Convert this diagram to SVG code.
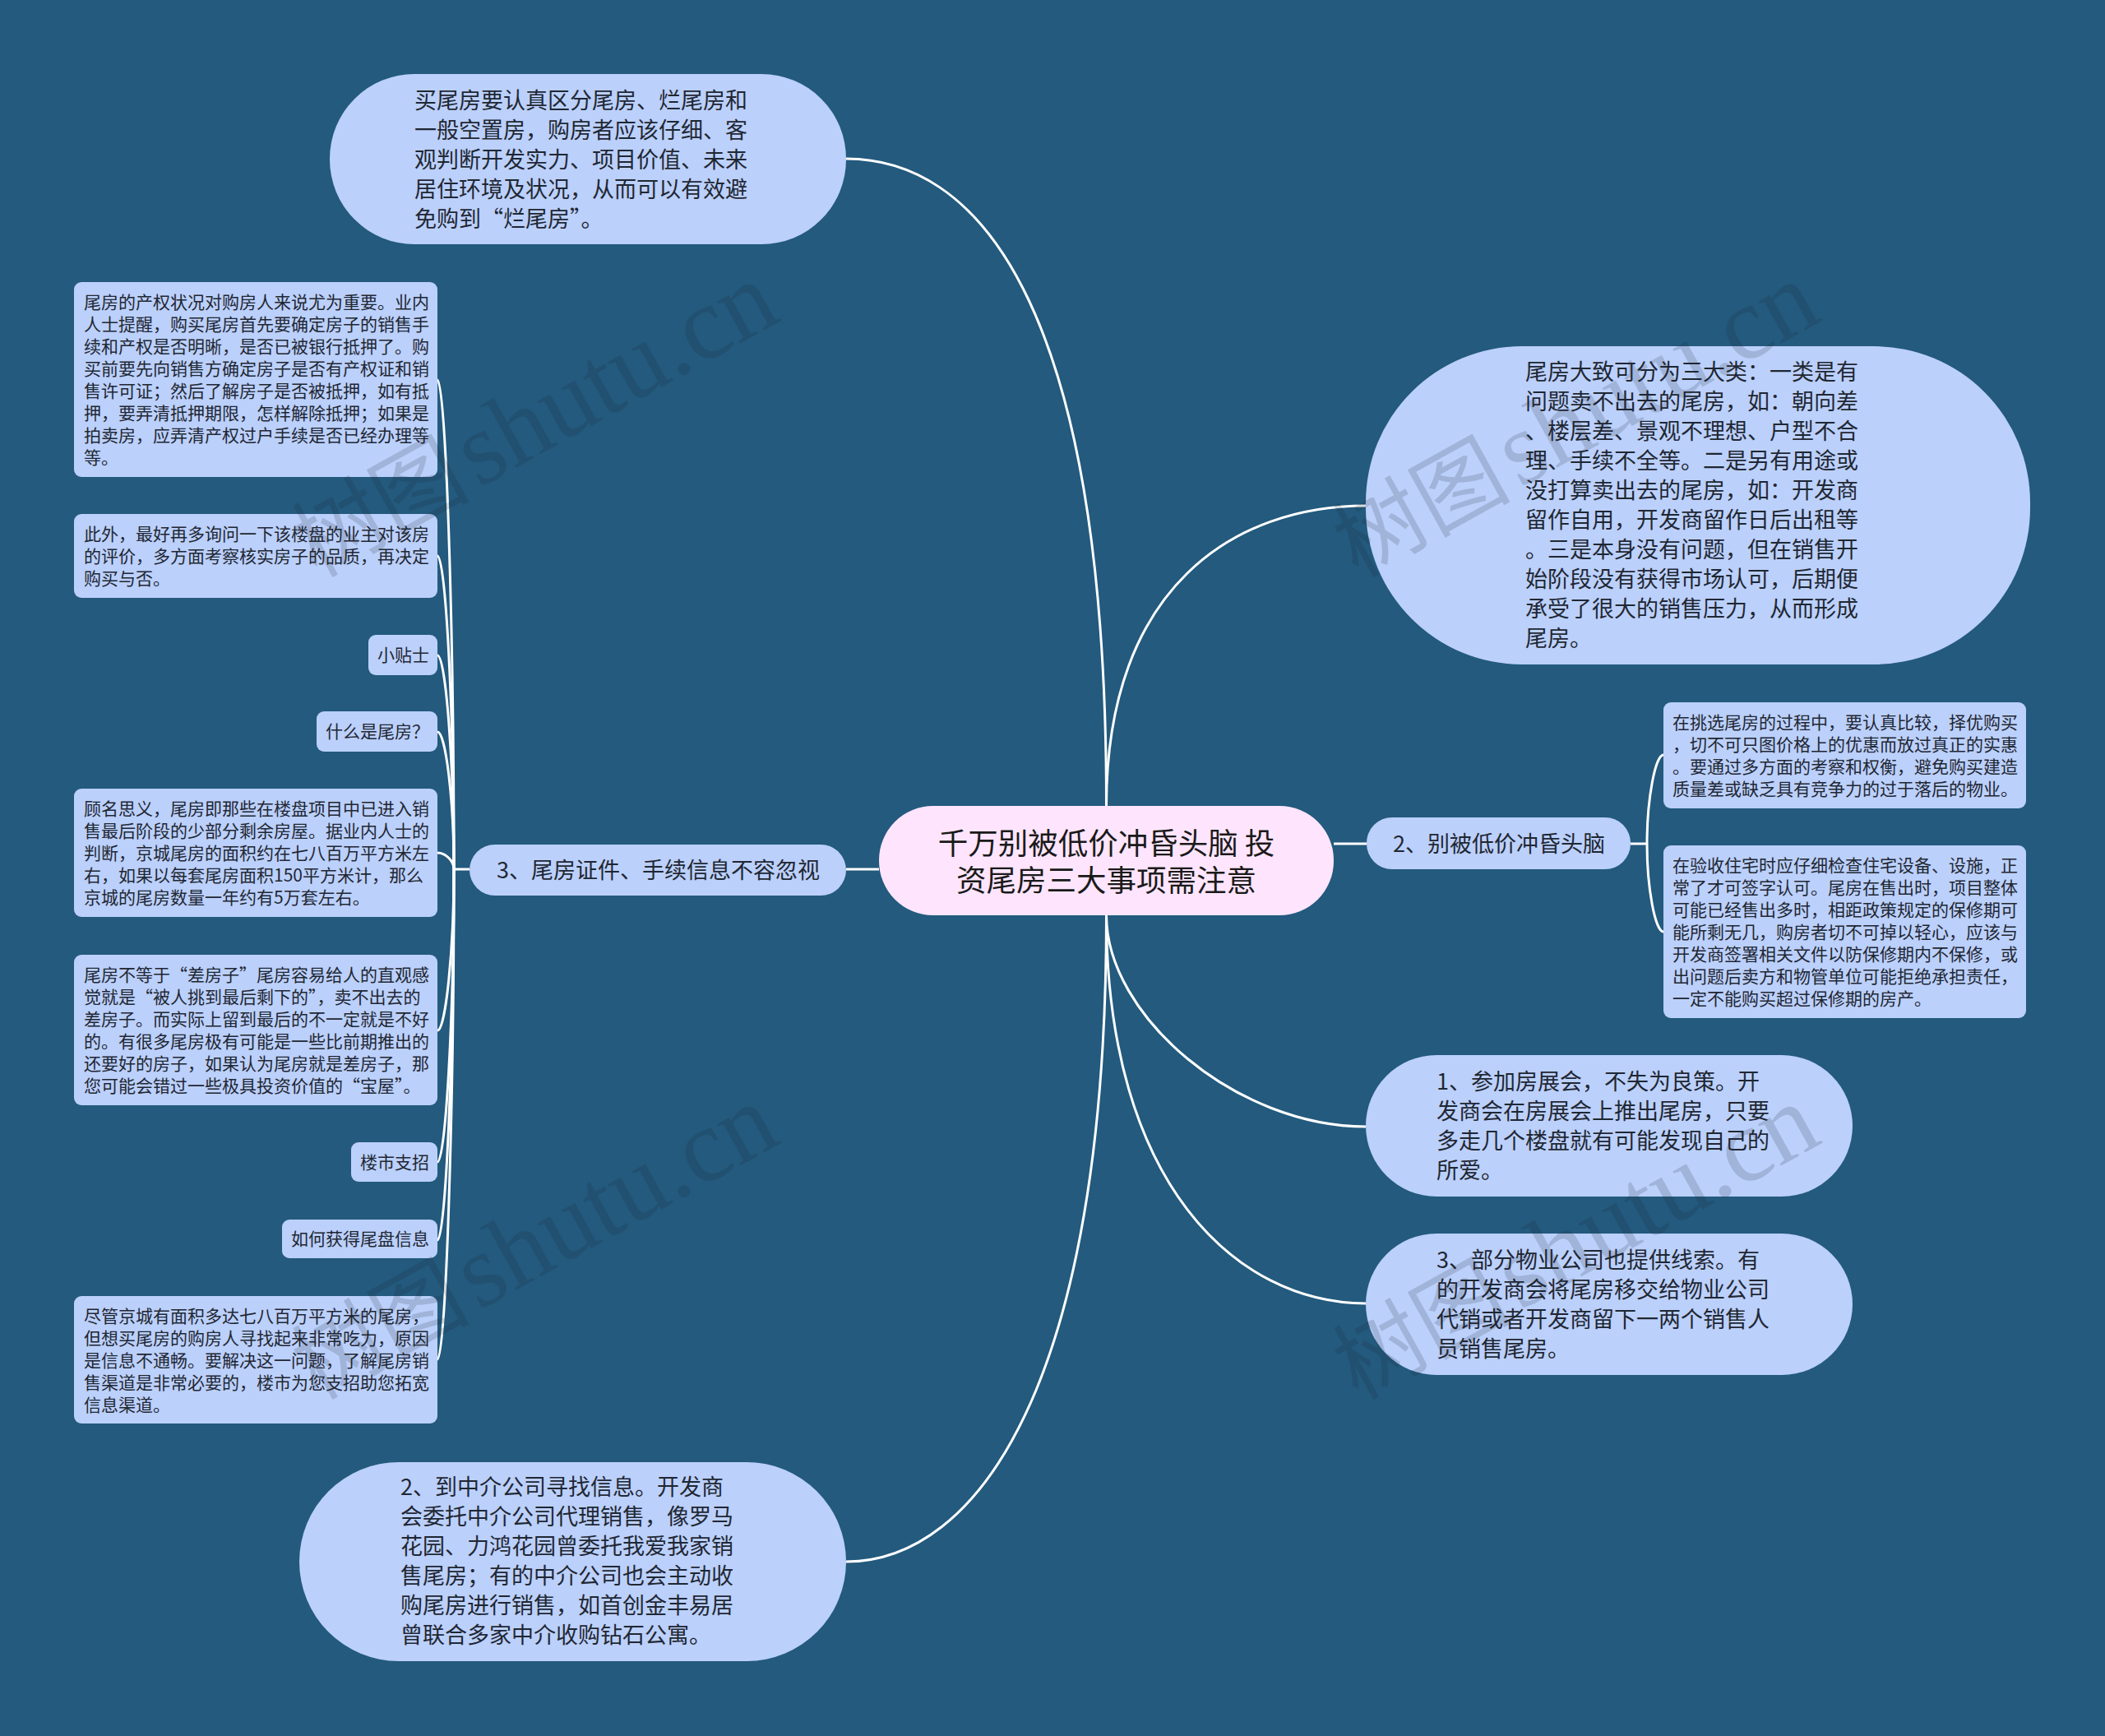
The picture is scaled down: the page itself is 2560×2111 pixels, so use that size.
<svg xmlns="http://www.w3.org/2000/svg" width="2560" height="2111" viewBox="0 0 2560 2111" lang="zh-CN">
<style>
text{font-family:"Noto Sans CJK SC","Liberation Sans",sans-serif;fill:#1f2733}
.n{fill:#bbd0fb}
.c{fill:#fee5fd}
.s{font-size:21px}
.m{font-size:27px}
.t{font-size:36.5px;text-anchor:middle;fill:#1a1a1a}
.l{fill:none;stroke:#fff;stroke-width:3}
.w{font-family:"Liberation Serif","Noto Sans CJK SC",serif;font-size:126px;fill:#1c2230;fill-opacity:.17}
.wc{font-size:108px}
</style>
<rect width="2560" height="2111" fill="#235a7e"/>
<g id="connectors" class="l">
<path d="M1345.5 980C1345.5 350 1180 193 1029 193"/>
<path d="M1345.5 980C1345.5 712 1503 615 1661 615"/>
<path d="M1345.5 1113C1345.5 1686 1187 1899 1029 1899"/>
<path d="M1345.5 1113C1345.5 1235 1503 1370 1661 1370"/>
<path d="M1345.5 1113C1345.5 1438 1503 1585 1661 1585"/>
<path d="M1069 1057H1029"/>
<path d="M1622 1026H1662"/>
<path d="M1983 1026H2003"/>
<path d="M2003 1026C2003 972 2013 918 2023 918"/>
<path d="M2003 1026C2003 1080 2013 1133 2023 1133"/>
<path d="M571 1057H552"/>
<path d="M552 1057C552 759 542 462 532 462"/>
<path d="M552 1057C552 866 542 676 532 676"/>
<path d="M552 1057C552 926 542 797 532 797"/>
<path d="M552 1057C552 973 542 890 532 890"/>
<path d="M552 1057C552 1047 542 1037 532 1037"/>
<path d="M552 1057C552 1155 542 1253 532 1253"/>
<path d="M552 1057C552 1235 542 1413 532 1413"/>
<path d="M552 1057C552 1282 542 1508 532 1508"/>
<path d="M552 1057C552 1355 542 1653 532 1653"/>
</g>
<g id="center"><rect class="c" x="1069" y="980" width="553" height="133" rx="66" ry="66"/>
<text class="t"><tspan x="1345.5" y="1039">千万别被低价冲昏头脑 投</tspan><tspan x="1345.5" y="1084">资尾房三大事项需注意</tspan></text></g>
<g id="n-buy"><rect class="n" x="401" y="90" width="628" height="207" rx="103" ry="103"/>
<text class="m"><tspan x="504" y="132">买尾房要认真区分尾房、烂尾房和</tspan><tspan x="504" y="168">一般空置房，购房者应该仔细、客</tspan><tspan x="504" y="204">观判断开发实力、项目价值、未来</tspan><tspan x="504" y="240">居住环境及状况，从而可以有效避</tspan><tspan x="504" y="276">免购到“烂尾房”。</tspan></text></g>
<g id="n-cert"><rect class="n" x="571" y="1027" width="458" height="62" rx="31" ry="31"/>
<text class="m" x="604" y="1068">3、尾房证件、手续信息不容忽视</text></g>
<g id="n-agent"><rect class="n" x="364" y="1778" width="665" height="242" rx="121" ry="121"/>
<text class="m"><tspan x="487" y="1818">2、到中介公司寻找信息。开发商</tspan><tspan x="487" y="1854">会委托中介公司代理销售，像罗马</tspan><tspan x="487" y="1890">花园、力鸿花园曾委托我爱我家销</tspan><tspan x="487" y="1926">售尾房；有的中介公司也会主动收</tspan><tspan x="487" y="1962">购尾房进行销售，如首创金丰易居</tspan><tspan x="487" y="1998">曾联合多家中介收购钻石公寓。</tspan></text></g>
<g id="n-types"><rect class="n" x="1661" y="421" width="808" height="387" rx="190" ry="190"/>
<text class="m"><tspan x="1855" y="462">尾房大致可分为三大类：一类是有</tspan><tspan x="1855" y="498">问题卖不出去的尾房，如：朝向差</tspan><tspan x="1855" y="534">、楼层差、景观不理想、户型不合</tspan><tspan x="1855" y="570">理、手续不全等。二是另有用途或</tspan><tspan x="1855" y="606">没打算卖出去的尾房，如：开发商</tspan><tspan x="1855" y="642">留作自用，开发商留作日后出租等</tspan><tspan x="1855" y="678">。三是本身没有问题，但在销售开</tspan><tspan x="1855" y="714">始阶段没有获得市场认可，后期便</tspan><tspan x="1855" y="750">承受了很大的销售压力，从而形成</tspan><tspan x="1855" y="786">尾房。</tspan></text></g>
<g id="n-dont"><rect class="n" x="1662" y="994" width="321" height="63" rx="31" ry="31"/>
<text class="m" x="1694" y="1036">2、别被低价冲昏头脑</text></g>
<g id="n-expo"><rect class="n" x="1661" y="1283" width="592" height="172" rx="86" ry="86"/>
<text class="m"><tspan x="1747" y="1325">1、参加房展会，不失为良策。开</tspan><tspan x="1747" y="1361">发商会在房展会上推出尾房，只要</tspan><tspan x="1747" y="1397">多走几个楼盘就有可能发现自己的</tspan><tspan x="1747" y="1433">所爱。</tspan></text></g>
<g id="n-prop"><rect class="n" x="1661" y="1500" width="592" height="172" rx="86" ry="86"/>
<text class="m"><tspan x="1747" y="1542">3、部分物业公司也提供线索。有</tspan><tspan x="1747" y="1578">的开发商会将尾房移交给物业公司</tspan><tspan x="1747" y="1614">代销或者开发商留下一两个销售人</tspan><tspan x="1747" y="1650">员销售尾房。</tspan></text></g>
<g id="l1"><rect class="n" x="90" y="343" width="442" height="237" rx="9"/>
<text class="s"><tspan x="102" y="375">尾房的产权状况对购房人来说尤为重要。业内</tspan><tspan x="102" y="402">人士提醒，购买尾房首先要确定房子的销售手</tspan><tspan x="102" y="429">续和产权是否明晰，是否已被银行抵押了。购</tspan><tspan x="102" y="456">买前要先向销售方确定房子是否有产权证和销</tspan><tspan x="102" y="483">售许可证；然后了解房子是否被抵押，如有抵</tspan><tspan x="102" y="510">押，要弄清抵押期限，怎样解除抵押；如果是</tspan><tspan x="102" y="537">拍卖房，应弄清产权过户手续是否已经办理等</tspan><tspan x="102" y="564">等。</tspan></text></g>
<g id="l2"><rect class="n" x="90" y="625" width="442" height="102" rx="9"/>
<text class="s"><tspan x="102" y="657">此外，最好再多询问一下该楼盘的业主对该房</tspan><tspan x="102" y="684">的评价，多方面考察核实房子的品质，再决定</tspan><tspan x="102" y="711">购买与否。</tspan></text></g>
<g id="l3"><rect class="n" x="448" y="772" width="84" height="49" rx="9"/>
<text class="s" x="459" y="804">小贴士</text></g>
<g id="l4"><rect class="n" x="385" y="865" width="147" height="49" rx="9"/>
<text class="s" x="396" y="897">什么是尾房？</text></g>
<g id="l5"><rect class="n" x="90" y="959" width="442" height="156" rx="9"/>
<text class="s"><tspan x="102" y="991">顾名思义，尾房即那些在楼盘项目中已进入销</tspan><tspan x="102" y="1018">售最后阶段的少部分剩余房屋。据业内人士的</tspan><tspan x="102" y="1045">判断，京城尾房的面积约在七八百万平方米左</tspan><tspan x="102" y="1072">右，如果以每套尾房面积150平方米计，那么</tspan><tspan x="102" y="1099">京城的尾房数量一年约有5万套左右。</tspan></text></g>
<g id="l6"><rect class="n" x="90" y="1161" width="442" height="183" rx="9"/>
<text class="s"><tspan x="102" y="1193">尾房不等于“差房子”尾房容易给人的直观感</tspan><tspan x="102" y="1220">觉就是“被人挑到最后剩下的”，卖不出去的</tspan><tspan x="102" y="1247">差房子。而实际上留到最后的不一定就是不好</tspan><tspan x="102" y="1274">的。有很多尾房极有可能是一些比前期推出的</tspan><tspan x="102" y="1301">还要好的房子，如果认为尾房就是差房子，那</tspan><tspan x="102" y="1328">您可能会错过一些极具投资价值的“宝屋”。</tspan></text></g>
<g id="l7"><rect class="n" x="427" y="1389" width="105" height="48" rx="9"/>
<text class="s" x="438" y="1421">楼市支招</text></g>
<g id="l8"><rect class="n" x="343" y="1483" width="189" height="47" rx="9"/>
<text class="s" x="354" y="1514">如何获得尾盘信息</text></g>
<g id="l9"><rect class="n" x="90" y="1576" width="442" height="155" rx="9"/>
<text class="s"><tspan x="102" y="1608">尽管京城有面积多达七八百万平方米的尾房，</tspan><tspan x="102" y="1635">但想买尾房的购房人寻找起来非常吃力，原因</tspan><tspan x="102" y="1662">是信息不通畅。要解决这一问题，了解尾房销</tspan><tspan x="102" y="1689">售渠道是非常必要的，楼市为您支招助您拓宽</tspan><tspan x="102" y="1716">信息渠道。</tspan></text></g>
<g id="r1"><rect class="n" x="2023" y="854" width="441" height="129" rx="9"/>
<text class="s"><tspan x="2034" y="886">在挑选尾房的过程中，要认真比较，择优购买</tspan><tspan x="2034" y="913">，切不可只图价格上的优惠而放过真正的实惠</tspan><tspan x="2034" y="940">。要通过多方面的考察和权衡，避免购买建造</tspan><tspan x="2034" y="967">质量差或缺乏具有竞争力的过于落后的物业。</tspan></text></g>
<g id="r2"><rect class="n" x="2023" y="1028" width="441" height="210" rx="9"/>
<text class="s"><tspan x="2034" y="1060">在验收住宅时应仔细检查住宅设备、设施，正</tspan><tspan x="2034" y="1087">常了才可签字认可。尾房在售出时，项目整体</tspan><tspan x="2034" y="1114">可能已经售出多时，相距政策规定的保修期可</tspan><tspan x="2034" y="1141">能所剩无几，购房者切不可掉以轻心，应该与</tspan><tspan x="2034" y="1168">开发商签署相关文件以防保修期内不保修，或</tspan><tspan x="2034" y="1195">出问题后卖方和物管单位可能拒绝承担责任，</tspan><tspan x="2034" y="1222">一定不能购买超过保修期的房产。</tspan></text></g>
<g id="watermarks">
<text class="w" transform="translate(385 703) rotate(-29)"><tspan class="wc">树图</tspan> <tspan dx="-22">shutu.cn</tspan></text>
<text class="w" transform="translate(385 1703) rotate(-29)"><tspan class="wc">树图</tspan> <tspan dx="-22">shutu.cn</tspan></text>
<text class="w" transform="translate(1651 703) rotate(-29)"><tspan class="wc">树图</tspan> <tspan dx="-22">shutu.cn</tspan></text>
<text class="w" transform="translate(1651 1703) rotate(-29)"><tspan class="wc">树图</tspan> <tspan dx="-22">shutu.cn</tspan></text>
</g>
</svg>
